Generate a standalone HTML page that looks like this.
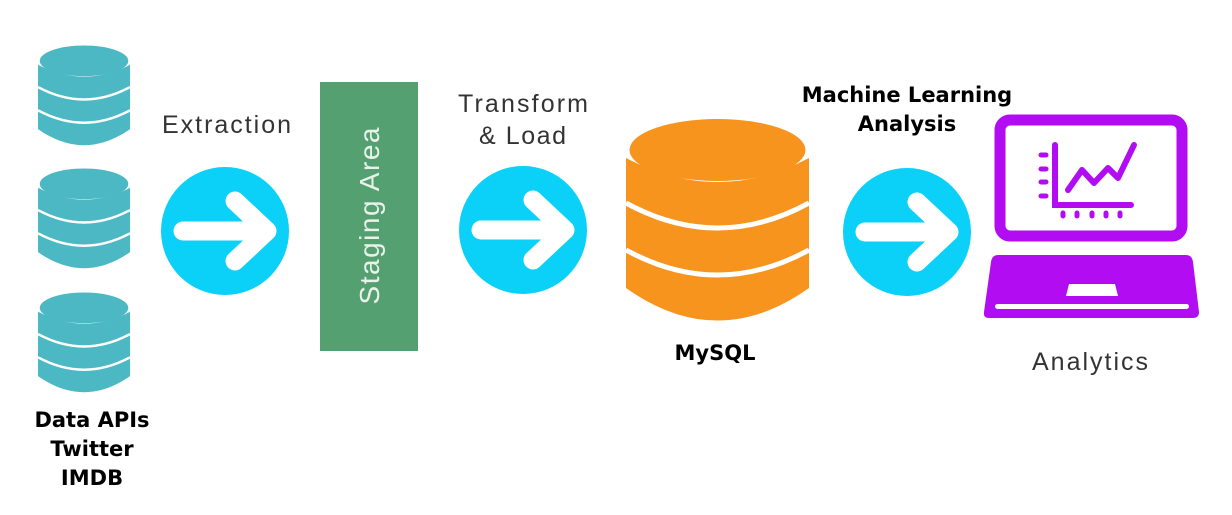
<!DOCTYPE html>
<html><head><style>
html,body{margin:0;padding:0;background:#fff;}
svg{display:block;}
</style></head><body>
<svg width="1232" height="515" viewBox="0 0 1232 515" xmlns="http://www.w3.org/2000/svg">
<defs>
<g id="cyl">
  <path d="M0,40 L0,170 Q91.5,235 183,170 L183,40 Q91.5,88 0,40 Z"/>
  <ellipse cx="91.5" cy="32" rx="88" ry="31"/>
  <path d="M0,85 Q91.5,135 183,85" fill="none" stroke="#fff" stroke-width="5"/>
  <path d="M0,132 Q91.5,182 183,132" fill="none" stroke="#fff" stroke-width="5"/>
</g>
<g id="arr">
  <circle cx="0" cy="0" r="64" fill="#0bd0f8"/>
  <path d="M-42,0 L40,0 M10,-30 L42,0 L10,30" fill="none" stroke="#fff" stroke-width="19" stroke-linecap="round" stroke-linejoin="round"/>
</g>
</defs>

<g fill="#4cb8c4">
<use href="#cyl" transform="translate(38,45) scale(0.503,0.495)"/>
<use href="#cyl" transform="translate(38,168) scale(0.503,0.495)"/>
<use href="#cyl" transform="translate(38,292) scale(0.503,0.495)"/>
</g>

<g fill="#f7941d"><use href="#cyl" transform="translate(626,118)"/></g>

<use href="#arr" transform="translate(225,231)"/>
<use href="#arr" transform="translate(523,230)"/>
<use href="#arr" transform="translate(907,232)"/>

<rect x="320" y="82" width="98" height="269" fill="#55a070"/>
<text transform="translate(379,216) rotate(-90)" text-anchor="middle" font-family="Liberation Sans, sans-serif" font-size="28" fill="#e8f2ea" textLength="177">Staging Area</text>

<rect x="1000" y="120" width="182" height="116" rx="10" fill="none" stroke="#b20cf2" stroke-width="11"/>
<g stroke="#b20cf2" stroke-linecap="round" fill="none">
<path d="M1055,145 L1055,205 L1131,205" stroke-width="6"/>
<path d="M1068,190 L1082,170 L1094,183 L1108,168 L1118,178 L1134,145" stroke-width="6" stroke-linejoin="round"/>
<path d="M1041,155h5 M1041,169h5 M1041,182h5 M1041,196h5" stroke-width="5"/>
<path d="M1063,213v3 M1077,213v3 M1092,213v3 M1106,213v3 M1120,213v3" stroke-width="5"/>
</g>
<path d="M998,255 L1186,255 Q1192,255 1193,262 L1199,312 Q1199,318 1193,318 L989,318 Q983,318 984,312 L991,262 Q992,255 998,255 Z" fill="#b20cf2"/>
<path d="M1069,284 L1115,284 L1118,296 L1066,296 Z" fill="#fff"/>
<rect x="995" y="304" width="194" height="5" rx="2.5" fill="#fff"/>

<g font-family="Liberation Sans, sans-serif" fill="#333">
<text x="162" y="133" font-size="25" textLength="129">Extraction</text>
<text x="458" y="112" font-size="25" textLength="130">Transform</text>
<text x="479" y="144" font-size="25" textLength="87">&amp; Load</text>
<text x="1032" y="370" font-size="25" textLength="116">Analytics</text>
</g>
<g font-family="DejaVu Sans, sans-serif" font-weight="bold" fill="#000" font-size="21" text-anchor="middle">
<text x="907" y="102">Machine Learning</text>
<text x="907" y="131">Analysis</text>
<text x="715" y="360">MySQL</text>
<text x="92" y="427">Data APIs</text>
<text x="92" y="456">Twitter</text>
<text x="92" y="485">IMDB</text>
</g>
</svg>
</body></html>
